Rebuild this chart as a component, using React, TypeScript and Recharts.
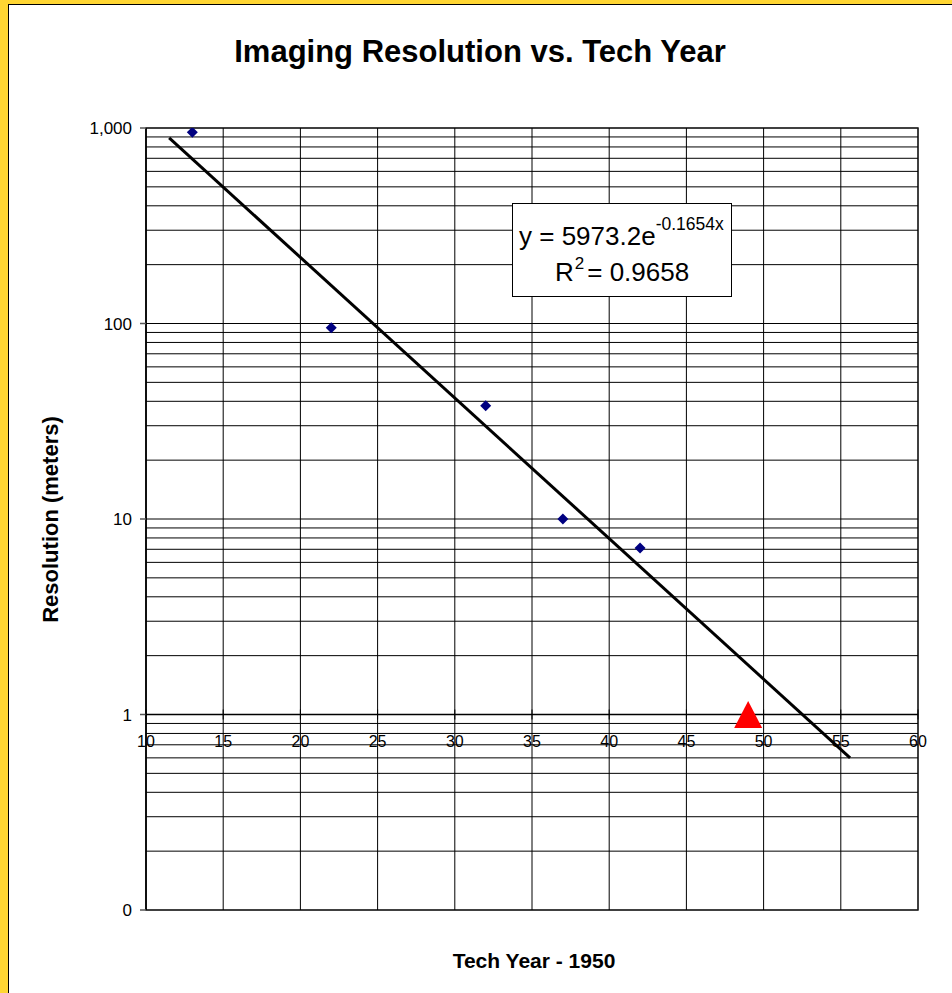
import React from "react";
import { ComposedChart, Scatter, XAxis, YAxis, ReferenceLine, ReferenceArea } from "recharts";

const observedX = [13, 22, 32, 37, 42];
const observedY = [950, 95, 38, 10, 7.1];
const targetX = [49];
const targetY = [1];
const trendX = [11.5, 55.6];
const trendY = [890, 0.6];
const xTicks = [10, 15, 20, 25, 30, 35, 40, 45, 50, 55, 60];
const yTicks = [0.1, 1, 10, 100, 1000];
const yTickLabels = ["0", "1", "10", "100", "1,000"];
const minorMultipliers = [1, 2, 3, 4, 5, 6, 7, 8, 9];
const decades = [0.1, 1, 10, 100];

const observed = observedX.map((x, i) => ({ x, y: observedY[i] }));
const target = targetX.map((x, i) => ({ x, y: targetY[i] }));
const trend = trendX.map((x, i) => ({ x, y: trendY[i] }));
const gridY: number[] = [];
decades.forEach((d) => minorMultipliers.forEach((m) => gridY.push(+(d * m).toPrecision(3))));
gridY.push(1000);

const W = 952;
const H = 993;
const M = { top: 128, right: 34, bottom: 53, left: 86 };
const Y_AXIS_W = 60;
const X_AXIS_H = 30;
const PLOT_TOP = M.top;
const PLOT_H = H - M.top - M.bottom - X_AXIS_H;
const AXIS_CROSS_Y = PLOT_TOP + PLOT_H * 0.75; // position of value 1 (log 0.1..1000)
const FONT = "'Liberation Sans', Arial, sans-serif";

const Diamond = (p: any) => {
  const { cx, cy } = p;
  const r = 5.5;
  return <polygon points={`${cx},${cy - r} ${cx + r},${cy} ${cx},${cy + r} ${cx - r},${cy}`} fill="#000080" />;
};

const Triangle = (p: any) => {
  const { cx, cy } = p;
  const w = 28;
  const h = 27;
  return (
    <polygon
      points={`${cx},${cy - h / 2} ${cx + w / 2},${cy + h / 2} ${cx - w / 2},${cy + h / 2}`}
      fill="#FF0000"
    />
  );
};

const XTick = (p: any) => {
  const { x, payload } = p;
  return (
    <g>
      <line x1={x} x2={x} y1={AXIS_CROSS_Y - 5} y2={AXIS_CROSS_Y + 5} stroke="#000" strokeWidth={1} />
      <text x={x} y={AXIS_CROSS_Y + 32.5} textAnchor="middle" fontSize={16} fontFamily={FONT} fill="#000">
        {payload.value}
      </text>
    </g>
  );
};

const yFmt = (v: number) => {
  const i = yTicks.indexOf(v);
  return i >= 0 ? yTickLabels[i] : String(v);
};

export default function App() {
  return (
    <div style={{ position: "absolute", left: 0, top: 0, width: W, height: H, overflow: "hidden", background: "#FFD633" }}>
      <div
        style={{
          position: "absolute",
          left: 8,
          top: 4,
          right: -10,
          bottom: -10,
          background: "#fff",
          borderLeft: "1px solid #000",
          borderTop: "1px solid #000",
        }}
      />
      <div style={{ position: "absolute", left: 0, top: 0 }}>
        <ComposedChart width={W} height={H} margin={M}>
          <XAxis
            dataKey="x"
            type="number"
            domain={[10, 60]}
            ticks={xTicks}
            axisLine={false}
            tickLine={false}
            tick={<XTick />}
            height={X_AXIS_H}
            allowDataOverflow
          />
          <YAxis
            dataKey="y"
            type="number"
            scale="log"
            domain={[0.1, 1000]}
            ticks={yTicks}
            tickFormatter={yFmt}
            width={Y_AXIS_W}
            axisLine={{ stroke: "#000", strokeWidth: 1.5 }}
            tickLine={{ stroke: "#555", strokeWidth: 1.5 }}
            tickSize={6}
            tickMargin={8}
            tick={{ fontSize: 17, fontFamily: FONT, fill: "#000" }}
            allowDataOverflow
            interval={0}
          />
          {gridY.map((v) => (
            <ReferenceLine key={"h" + v} y={v} stroke="#000" strokeWidth={1} />
          ))}
          {xTicks.map((v) => (
            <ReferenceLine key={"v" + v} x={v} stroke="#000" strokeWidth={1} />
          ))}
          <ReferenceArea x1={10} x2={60} y1={0.1} y2={1000} fill="none" stroke="#808080" strokeWidth={2} />
          <ReferenceLine y={1} stroke="#000" strokeWidth={1.5} />
          <Scatter
            data={trend}
            line={{ stroke: "#000", strokeWidth: 3 }}
            shape={() => null}
            isAnimationActive={false}
          />
          <Scatter data={observed} shape={<Diamond />} isAnimationActive={false} />
          <Scatter data={target} shape={<Triangle />} isAnimationActive={false} />
        </ComposedChart>
      </div>
      <svg width={W} height={H} style={{ position: "absolute", left: 0, top: 0, pointerEvents: "none" }}>
        <text x={480} y={62} textAnchor="middle" fontFamily={FONT} fontWeight="bold" fontSize={31} fill="#000">
          Imaging Resolution vs. Tech Year
        </text>
        <text
          transform="translate(58,519.5) rotate(-90)"
          textAnchor="middle"
          fontFamily={FONT}
          fontWeight="bold"
          fontSize={22}
          fill="#000"
        >
          Resolution (meters)
        </text>
        <text x={534} y={968} textAnchor="middle" fontFamily={FONT} fontWeight="bold" fontSize={21} fill="#000">
          Tech Year - 1950
        </text>
        <rect x={512.5} y={203.5} width={219} height={93} fill="#fff" stroke="#000" strokeWidth={1} />
        <text x={519} y={245} fontFamily={FONT} fontSize={26} fill="#000">
          y = 5973.2e
          <tspan fontSize={17.5} dy={-15}>-0.1654x</tspan>
        </text>
        <text x={555} y={281} fontFamily={FONT} fontSize={26} fill="#000">
          R
          <tspan fontSize={17} dy={-12} dx={1}>2</tspan>
          <tspan dy={12} dx={3}>= 0.9658</tspan>
        </text>
      </svg>
    </div>
  );
}
